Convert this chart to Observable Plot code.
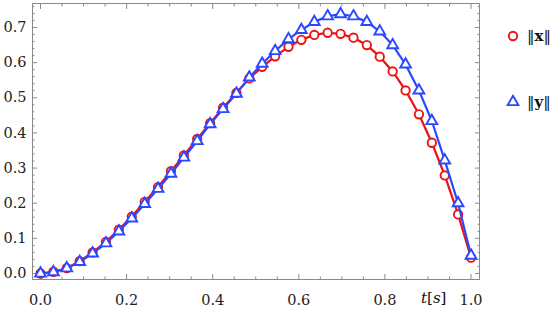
<!DOCTYPE html>
<html>
<head>
<meta charset="utf-8">
<script src="https://cdn.jsdelivr.net/npm/d3@7"></script>
<script src="https://cdn.jsdelivr.net/npm/@observablehq/plot@0.6"></script>
<style>
  html, body { margin: 0; padding: 0; background: white; }
  #wrap { position: relative; width: 555px; height: 314px; }
  .leg { position: absolute; font-family: "DejaVu Serif"; font-size: 15px; color: #111; display: flex; align-items: center; }
  .leg svg { margin-right: 5px; }
</style>
</head>
<body>
<div id="wrap"></div>
<script>
// time samples t [s]
const tVals = [0, 0.030, 0.061, 0.091, 0.121, 0.152, 0.182, 0.212, 0.242, 0.273, 0.303, 0.333, 0.364, 0.394, 0.424, 0.455, 0.485, 0.515, 0.545, 0.576, 0.606, 0.636, 0.667, 0.697, 0.727, 0.758, 0.788, 0.818, 0.848, 0.879, 0.909, 0.939, 0.970, 1.0];
// ||x|| (red circles)
const normX = [0.0, 0.005, 0.015, 0.035, 0.060, 0.090, 0.125, 0.162, 0.204, 0.246, 0.291, 0.336, 0.383, 0.428, 0.472, 0.514, 0.555, 0.588, 0.618, 0.645, 0.665, 0.679, 0.685, 0.682, 0.671, 0.650, 0.617, 0.575, 0.521, 0.453, 0.372, 0.279, 0.168, 0.045];
// ||y|| (blue triangles)
const normY = [0.0, 0.004, 0.015, 0.033, 0.057, 0.086, 0.120, 0.157, 0.198, 0.241, 0.284, 0.330, 0.377, 0.425, 0.468, 0.512, 0.558, 0.597, 0.633, 0.667, 0.693, 0.716, 0.732, 0.738, 0.732, 0.716, 0.689, 0.650, 0.595, 0.521, 0.434, 0.322, 0.200, 0.051];
// ticks
const xMajor = [0, 0.2, 0.4, 0.6, 0.8, 1.0];
const xMinor = [0.05, 0.1, 0.15, 0.25, 0.3, 0.35, 0.45, 0.5, 0.55, 0.65, 0.7, 0.75, 0.85, 0.9, 0.95];
const yMajor = [0, 0.1, 0.2, 0.3, 0.4, 0.5, 0.6, 0.7];
const yMinor = [0.02, 0.04, 0.06, 0.08, 0.12, 0.14, 0.16, 0.18, 0.22, 0.24, 0.26, 0.28, 0.32, 0.34, 0.36, 0.38, 0.42, 0.44, 0.46, 0.48, 0.52, 0.54, 0.56, 0.58, 0.62, 0.64, 0.66, 0.68, 0.72, 0.74, 0.76];

const red = "#ee1111";
const blue = "#2a48ff";
const gray = "#8a8a8a";
const serif = "DejaVu Serif";
const rows = tVals.map((t, i) => ({t, nx: normX[i], ny: normY[i]}));
const blank = () => "";

const tickAxes = [];
for (const anchor of ["bottom", "top"]) {
  tickAxes.push(Plot.axisX(xMinor, {anchor, tickSize: -2.5, tickFormat: blank, stroke: gray, label: null}));
  tickAxes.push(Plot.axisX(xMajor, {anchor, tickSize: -5, tickFormat: blank, stroke: gray, label: null}));
}
for (const anchor of ["left", "right"]) {
  tickAxes.push(Plot.axisY(yMinor, {anchor, tickSize: -2.5, tickFormat: blank, stroke: gray, label: null}));
  tickAxes.push(Plot.axisY(yMajor, {anchor, tickSize: -5, tickFormat: blank, stroke: gray, label: null}));
}

const chart = Plot.plot({
  width: 555,
  height: 314,
  marginLeft: 32,
  marginRight: 76,
  marginTop: 3,
  marginBottom: 35,
  x: {domain: [-0.0186, 1.0197], label: null},
  y: {domain: [-0.0171, 0.7683], label: null},
  style: {fontFamily: serif, fontSize: "14px", background: "white", overflow: "visible", color: "#222"},
  marks: [
    Plot.frame({stroke: gray}),
    ...tickAxes,
    Plot.axisX(xMajor, {anchor: "bottom", tickSize: 0, tickPadding: 15, tickFormat: d3.format(".1f"), label: null, fill: "#222", fontFamily: serif, fontSize: 14.5}),
    Plot.axisY(yMajor, {anchor: "left", tickSize: 0, tickPadding: 6, tickFormat: d3.format(".1f"), label: null, fill: "#222", fontFamily: serif, fontSize: 14.5}),
    Plot.line(rows, {x: "t", y: "nx", stroke: red, strokeWidth: 2.2}),
    Plot.dot(rows, {x: "t", y: "nx", r: 4.2, stroke: red, strokeWidth: 1.9, fill: "white"}),
    Plot.line(rows, {x: "t", y: "ny", stroke: blue, strokeWidth: 2.2}),
    Plot.dot(rows, {x: "t", y: "ny", symbol: "triangle", r: 4.0, stroke: blue, strokeWidth: 1.9, fill: "white"})
  ]
});

const wrap = document.getElementById("wrap");
wrap.appendChild(chart);

// axis label t[s]
const lab = document.createElement("div");
lab.className = "leg";
lab.style.left = "421px";
lab.style.top = "289px";
lab.style.fontSize = "15px";
lab.innerHTML = '<span><i>t</i>[<i>s</i>]</span>';
wrap.appendChild(lab);

// legend
const legItems = [
  {label: '‖<b>x</b>‖', color: red, shape: "circle", top: 24},
  {label: '‖<b>y</b>‖', color: blue, shape: "triangle", top: 90}
];
for (const it of legItems) {
  const d = document.createElement("div");
  d.className = "leg";
  d.style.left = "504px";
  d.style.top = it.top + "px";
  const sym = it.shape === "circle"
    ? `<circle cx="9" cy="12" r="4.2" fill="white" stroke="${it.color}" stroke-width="1.9"/>`
    : `<path d="${d3.symbol(d3.symbolTriangle, Math.PI * 4.0 * 4.0)()}" transform="translate(9,12)" fill="white" stroke="${it.color}" stroke-width="1.9"/>`;
  d.innerHTML = `<svg width="18" height="24">${sym}</svg><span>${it.label}</span>`;
  wrap.appendChild(d);
}
</script>
</body>
</html>
